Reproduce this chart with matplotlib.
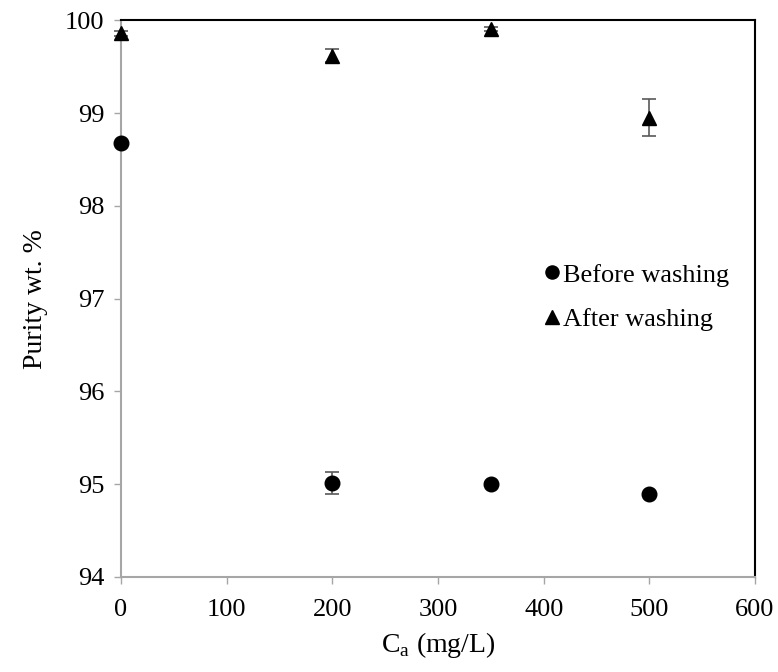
import matplotlib
matplotlib.use('Agg')
import matplotlib.pyplot as plt

plt.rcParams['font.family'] = ['Liberation Serif', 'DejaVu Serif']
plt.rcParams['mathtext.fontset'] = 'custom'
plt.rcParams['mathtext.rm'] = 'Liberation Serif'

# ___data___
ca = [0, 200, 350, 500]
before = [98.68, 95.01, 95.00, 94.89]
before_err = [0.0, 0.12, 0.02, 0.02]
after = [99.86, 99.62, 99.91, 98.95]
after_err = [0.03, 0.07, 0.02, 0.20]

GRAY = '#a6a6a6'


def main():
    fig = plt.figure(figsize=(7.78, 6.72), dpi=100)
    ax = fig.add_axes([0.1555, 0.1414, 0.815, 0.8281])

    ax.errorbar(ca, before, yerr=before_err, fmt='o', color='black', ms=10.5,
                ecolor='#595959', elinewidth=1.2, capsize=5, capthick=1.2,
                label='Before washing', zorder=3, clip_on=False)
    ax.errorbar(ca, after, yerr=after_err, fmt='^', color='black', ms=10.5,
                ecolor='#595959', elinewidth=1.2, capsize=5, capthick=1.2,
                label='After washing', zorder=3, clip_on=False)

    ax.set_xlim(0, 600)
    ax.set_ylim(94, 100)
    ax.set_xticks(range(0, 601, 100))
    ax.set_yticks(range(94, 101))

    # axis lines: left/bottom gray, top/right black
    for s in ['left', 'bottom']:
        ax.spines[s].set_color(GRAY)
        ax.spines[s].set_linewidth(1.5)
    for s in ['top', 'right']:
        ax.spines[s].set_color('black')
        ax.spines[s].set_linewidth(1.5)

    ax.tick_params(axis='y', direction='out', length=5, width=1,
                   color=GRAY, labelsize=19, pad=7)
    ax.tick_params(axis='x', direction='out', length=5, width=1,
                   color=GRAY, labelsize=19, pad=11)

    ax.set_xlabel(r'C$_\mathregular{a}$ (mg/L)', fontsize=20, labelpad=6)
    ax.set_ylabel('Purity wt. %', fontsize=20, labelpad=12)

    # legend markers only, no error bars, no frame
    h, l = ax.get_legend_handles_labels()
    h = [x[0] for x in h]
    ax.legend(h, l, loc='center left', bbox_to_anchor=(0.632, 0.503),
              frameon=False, fontsize=19, handlelength=0.5,
              handletextpad=0.15, labelspacing=0.8, markerscale=0.9)

    plt.savefig('out.png', dpi=100)


if __name__ == '__main__':
    main()
